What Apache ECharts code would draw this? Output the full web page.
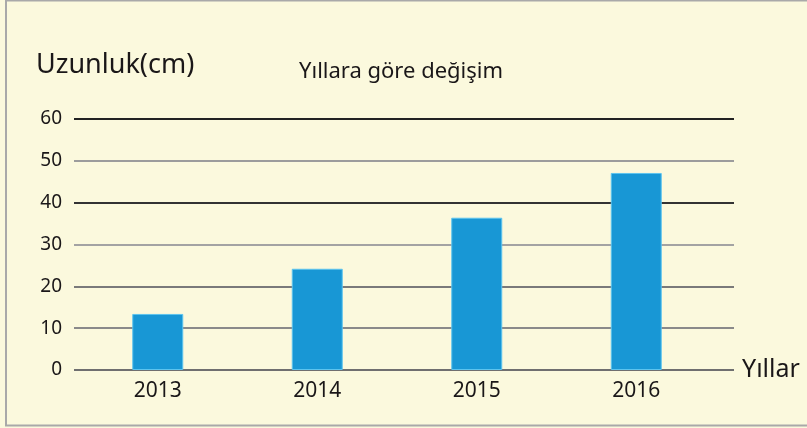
<html>
    <head>
        <meta charset='utf-8'>
        <script src="https://cdn.jsdelivr.net/npm/echarts@6/dist/echarts.min.js"></script>
    </head>
    <body>
        <style>
            html, body, #main {
                width: 100%;
                height: 100%;
                margin: 0;
                background: #fbf9dd;
            }
        </style>
        <div id='main'></div>
        <script>
        var years = ['2013', '2014', '2015', '2016'];
        var lengths = [13.4, 24.2, 36.4, 47.1];
        var yTicks = [0, 10, 20, 30, 40, 50, 60];
        // one colour per gridline, from 0 up to 60
        var gridColors = ['#6f6f6f', '#8a8a8a', '#7a7a7a', '#a3a3a3', '#333333', '#9c9c9c', '#222222'];

        var chart = echarts.init(document.getElementById('main'));

        var textFont = 'Noto Sans';
        var textColor = '#1a1718';

        var option = {
            backgroundColor: '#fbf9dd',
            animation: false,
            title: [{
                text: 'Uzunluk(cm)',
                left: 36,
                top: 52,
                padding: 0,
                textStyle: { fontFamily: textFont, fontSize: 27, fontWeight: 'normal', color: textColor }
            }, {
                text: 'Yıllara göre değişim',
                left: 299,
                top: 61,
                padding: 0,
                textStyle: { fontFamily: textFont, fontSize: 22, fontWeight: 'normal', color: textColor }
            }],
            graphic: [{
                type: 'rect',
                shape: { x: 6, y: 0.5, width: 900, height: 425 },
                style: { fill: 'none', stroke: '#a9a9a9', lineWidth: 2 },
                silent: true
            }],
            grid: [
                // gridlines reach past the category bands
                { left: 74, right: 73, top: 119, bottom: 58 },
                { left: 78, right: 91, top: 119, bottom: 58 }
            ],
            xAxis: [{
                gridIndex: 0,
                type: 'value',
                min: 0,
                max: 1,
                name: 'Yıllar',
                nameLocation: 'end',
                nameGap: 8,
                nameTextStyle: { fontFamily: textFont, fontSize: 25, color: textColor },
                axisLine: { show: false },
                axisTick: { show: false },
                axisLabel: { show: false },
                splitLine: { show: false }
            }, {
                gridIndex: 1,
                type: 'category',
                data: years,
                axisLine: { show: false },
                axisTick: { show: false },
                axisLabel: {
                    margin: 11,
                    fontFamily: textFont,
                    fontSize: 21,
                    color: textColor
                }
            }],
            yAxis: [{
                gridIndex: 0,
                type: 'value',
                min: yTicks[0],
                max: yTicks[yTicks.length - 1],
                interval: 10,
                axisLine: { show: false },
                axisTick: { show: false },
                axisLabel: {
                    margin: 12,
                    fontFamily: textFont,
                    fontSize: 19,
                    color: textColor
                },
                splitLine: {
                    show: true,
                    lineStyle: { color: gridColors, width: 2 }
                }
            }, {
                gridIndex: 1,
                type: 'value',
                min: yTicks[0],
                max: yTicks[yTicks.length - 1],
                interval: 10,
                show: false
            }],
            series: [{
                type: 'bar',
                xAxisIndex: 1,
                yAxisIndex: 1,
                data: lengths,
                barWidth: 51,
                itemStyle: {
                    color: '#1897d5',
                    borderColor: '#5cc4ef',
                    borderWidth: 1
                }
            }]
        };

        chart.setOption(option);
        </script>
    </body>
</html>
